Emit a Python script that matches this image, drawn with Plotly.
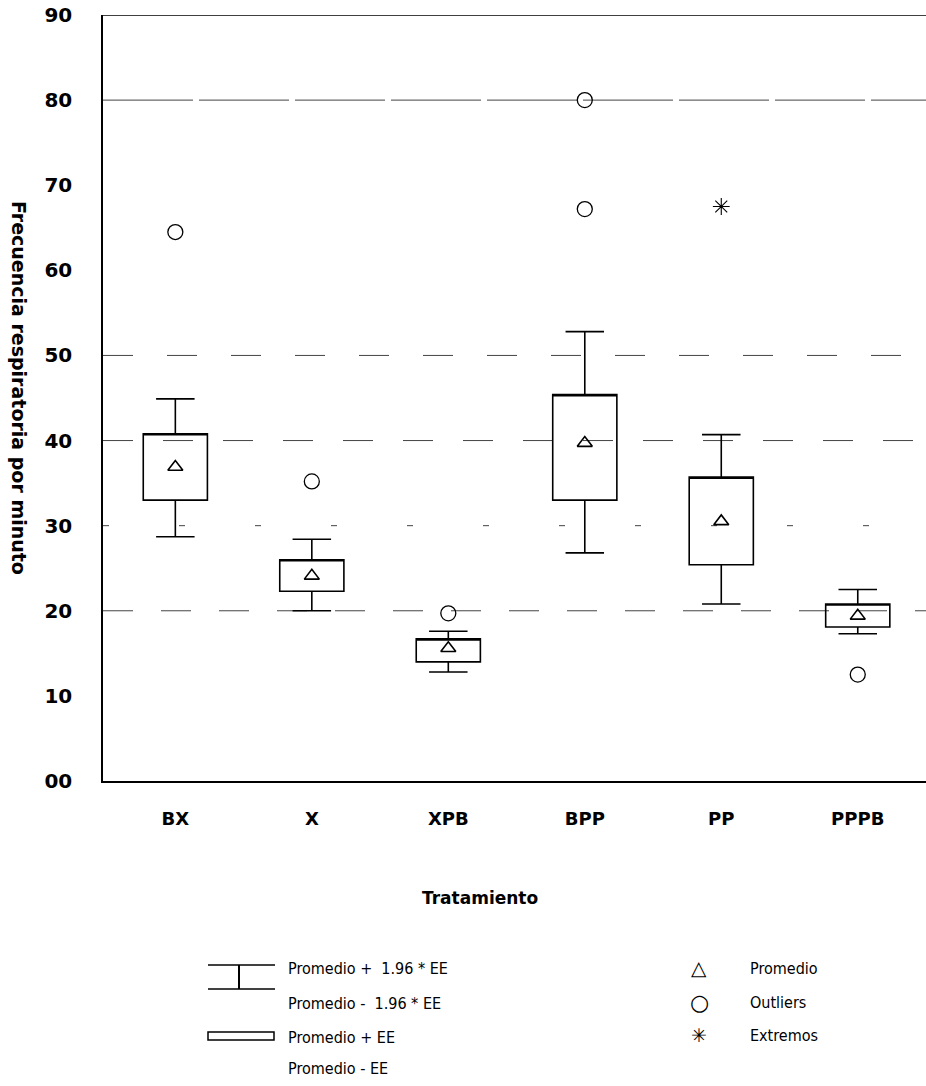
import plotly.graph_objects as go

# ---- data ----
categories = ["BX", "X", "XPB", "BPP", "PP", "PPPB"]
mean_vals = [36.9, 24.1, 15.6, 39.7, 30.5, 19.4]
box_low = [33.0, 22.3, 14.0, 33.0, 25.4, 18.1]      # Promedio - EE
box_high = [40.8, 26.0, 16.7, 45.4, 35.7, 20.8]     # Promedio + EE
whisk_low = [28.7, 20.0, 12.8, 26.8, 20.8, 17.3]    # Promedio - 1.96*EE
whisk_high = [44.9, 28.4, 17.6, 52.8, 40.7, 22.5]   # Promedio + 1.96*EE
outlier_cats = ["BX", "X", "XPB", "BPP", "BPP", "PPPB"]
outlier_vals = [64.5, 35.2, 19.7, 80.0, 67.2, 12.5]
extreme_cats = ["PP"]
extreme_vals = [67.5]
y_tickvals = [0, 10, 20, 30, 40, 50, 60, 70, 80, 90]
y_ticktext = ["00", "10", "20", "30", "40", "50", "60", "70", "80", "90"]
grid_levels = [20, 30, 40, 50, 80]
grid_dashes = ["30px,28px", "6px,70px", "30px,30px", "30px,34px", "90px,6px"]

# ---- layout geometry ----
W, H = 926, 1086
L, R, T, B = 103, 0, 15, 305
PW = W - L - R
PH = H - T - B


def px(xp):
    return (xp - L) / PW


def py(yp):
    return (H - B - yp) / PH


FONT_BOLD = "DejaVu Sans"
FONT_NARROW = "DejaVu Sans Condensed, Liberation Sans, sans-serif"

fig = go.Figure()

fig.add_trace(go.Box(
    x=categories,
    q1=box_low,
    median=box_high,
    q3=box_high,
    lowerfence=whisk_low,
    upperfence=whisk_high,
    boxpoints=False,
    width=0.47,
    whiskerwidth=0.6,
    line=dict(color="black", width=1.6),
    fillcolor="rgba(255,255,255,0)",
    showlegend=False,
    hoverinfo="skip",
))

fig.add_trace(go.Scatter(
    x=categories, y=mean_vals, mode="markers",
    marker=dict(symbol="triangle-up-open", size=13, color="black",
                line=dict(width=1.6)),
    showlegend=False,
))
fig.add_trace(go.Scatter(
    x=outlier_cats, y=outlier_vals, mode="markers",
    marker=dict(symbol="circle-open", size=15, color="black",
                line=dict(width=1.3)),
    showlegend=False,
))
fig.add_trace(go.Scatter(
    x=extreme_cats, y=extreme_vals, mode="markers",
    marker=dict(symbol="asterisk-open", size=14, color="black",
                line=dict(width=1.1)),
    showlegend=False,
))

shapes = []
for lvl, d in zip(grid_levels, grid_dashes):
    shapes.append(dict(type="line", xref="paper", yref="y", x0=0, x1=1,
                       y0=lvl, y1=lvl, layer="below",
                       line=dict(color="#444", width=1, dash=d)))
# top border
shapes.append(dict(type="line", xref="paper", yref="y", x0=0, x1=1,
                   y0=90, y1=90, line=dict(color="black", width=1.5)))

# legend glyphs (pixel positions converted to paper coords)
shapes += [
    dict(type="line", xref="paper", yref="paper", x0=px(208), x1=px(275),
         y0=py(965), y1=py(965), line=dict(color="black", width=1.5)),
    dict(type="line", xref="paper", yref="paper", x0=px(208), x1=px(275),
         y0=py(989), y1=py(989), line=dict(color="black", width=1.5)),
    dict(type="line", xref="paper", yref="paper", x0=px(239), x1=px(239),
         y0=py(965), y1=py(989), line=dict(color="black", width=2)),
    dict(type="rect", xref="paper", yref="paper", x0=px(208), x1=px(274),
         y0=py(1040), y1=py(1032), line=dict(color="black", width=1.5)),
]

ann = []
ann.append(dict(text="<b>Frecuencia respiratoria por minuto</b>", xref="paper",
                yref="paper", x=px(19), y=py(388), showarrow=False,
                textangle=90, font=dict(family=FONT_BOLD, size=19, color="black"),
                xanchor="center", yanchor="middle"))
ann.append(dict(text="<b>Tratamiento</b>", xref="paper", yref="paper",
                x=px(480), y=py(898), showarrow=False,
                font=dict(family=FONT_BOLD, size=17, color="black"),
                xanchor="center", yanchor="middle"))

left_texts = ["Promedio +  1.96 * EE", "Promedio -  1.96 * EE",
              "Promedio + EE", "Promedio - EE"]
left_ys = [968, 1003, 1037, 1068]
for t, yy in zip(left_texts, left_ys):
    ann.append(dict(text=t, xref="paper", yref="paper", x=px(286), y=py(yy),
                    showarrow=False, xanchor="left", yanchor="middle",
                    font=dict(family=FONT_NARROW, size=16, color="black")))

right_syms = ["△", "○", "✳"]
right_sizes = [20, 22, 19]
right_texts = ["Promedio", "Outliers", "Extremos"]
right_ys = [968, 1002, 1035]
for s, sz, t, yy in zip(right_syms, right_sizes, right_texts, right_ys):
    ann.append(dict(text=s, xref="paper", yref="paper", x=px(699), y=py(yy),
                    showarrow=False, xanchor="center", yanchor="middle",
                    font=dict(family="DejaVu Sans", size=sz, color="black")))
    ann.append(dict(text=t, xref="paper", yref="paper", x=px(748), y=py(yy),
                    showarrow=False, xanchor="left", yanchor="middle",
                    font=dict(family=FONT_NARROW, size=16, color="black")))

fig.update_layout(
    width=W, height=H,
    margin=dict(l=L, r=R, t=T, b=B, pad=0),
    paper_bgcolor="white", plot_bgcolor="white",
    shapes=shapes, annotations=ann,
    showlegend=False,
    xaxis=dict(type="category", range=[-0.53, 5.5], showgrid=False,
               zeroline=False, showline=True, linecolor="black", linewidth=2,
               ticks="", ticklabelstandoff=20,
               categoryorder="array", categoryarray=categories,
               tickfont=dict(family=FONT_BOLD, size=18, color="black",
                             weight="bold")),
    yaxis=dict(range=[0, 90], showgrid=False, zeroline=False,
               showline=True, linecolor="black", linewidth=1.5,
               tickvals=y_tickvals,
               ticktext=[f"<b>{t}</b>" for t in y_ticktext], ticks="",
               ticklabelstandoff=25,
               tickfont=dict(family=FONT_BOLD, size=20, color="black",
                             weight="bold")),
)

fig.write_html("out.html")
